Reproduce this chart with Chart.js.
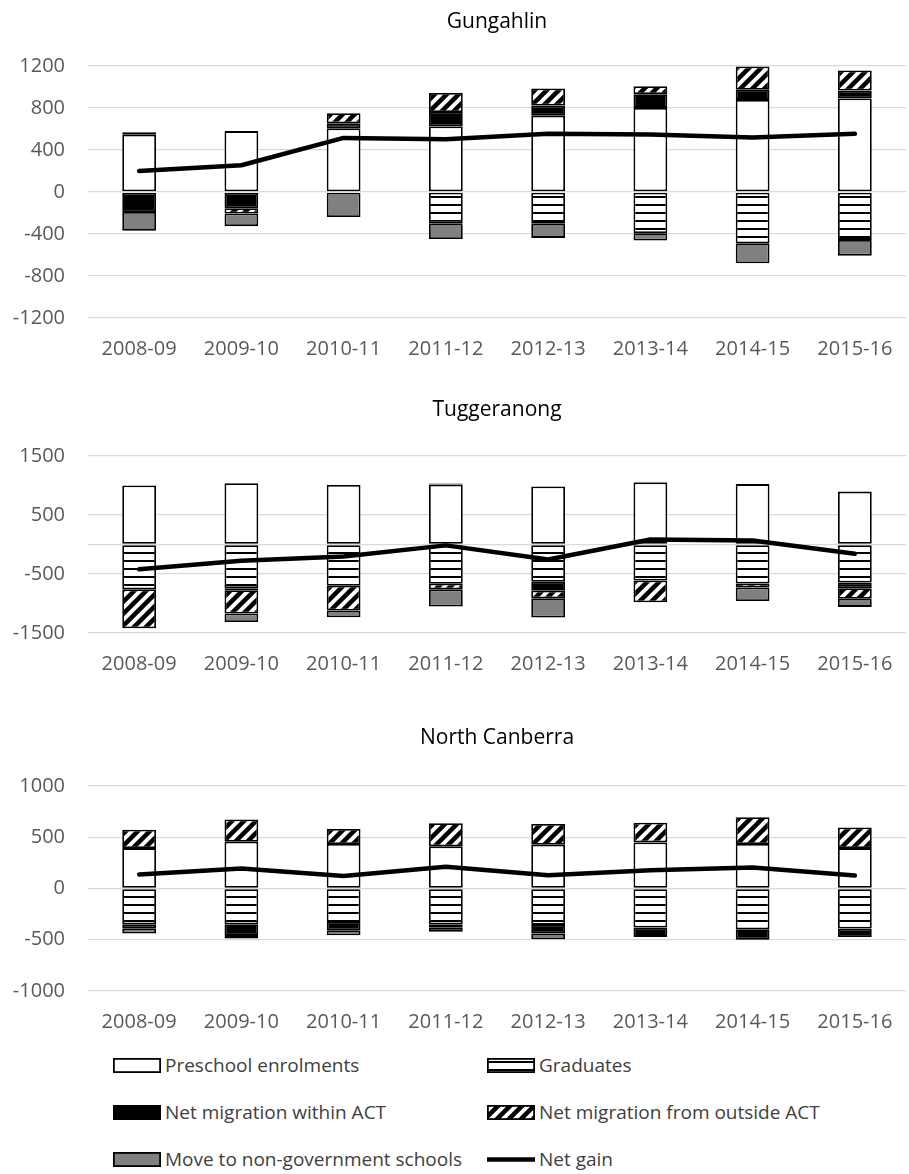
<!DOCTYPE html>
<html>
<head>
<meta charset="utf-8">
<script src="https://cdn.jsdelivr.net/npm/chart.js@4.4.1/dist/chart.umd.min.js"></script>
<style>
  body { margin: 0; background: #fff; width: 909px; height: 1174px; overflow: hidden; position: relative; font-family: "Open Sans", sans-serif; }
  .panel { position: absolute; left: 0; width: 909px; }
  .item { position: absolute; height: 26px; display: flex; align-items: center; font-size: 19px; color: #404040; white-space: nowrap; }
  .item canvas { margin-right: 4px; }
</style>
</head>
<body>
<div class="panel" style="top:1px;height:371px"><canvas id="chartGungahlin"></canvas></div>
<div class="panel" style="top:389px;height:298px"><canvas id="chartTuggeranong"></canvas></div>
<div class="panel" style="top:717px;height:328px"><canvas id="chartNorth"></canvas></div>
<div id="legend"></div>

<script>
// categorias (anos lectivos)
var years = ['2008-09', '2009-10', '2010-11', '2011-12', '2012-13', '2013-14', '2014-15', '2015-16'];
var seriesNames = ['Preschool enrolments', 'Graduates', 'Net migration within ACT', 'Net migration from outside ACT', 'Move to non-government schools', 'Net gain'];

// Gungahlin
var gungPreschool = [545, 580, 606, 625, 727, 801, 877, 890];
var gungGraduates = [0, 0, 0, -297, -303, -392, -488, -456];
var gungWithin    = [-190, -155, 48, 137, 96, 131, 96, 77];
var gungOutside   = [25, -50, 96, 182, 163, 75, 223, 191];
var gungNonGov    = [-180, -120, -239, -150, -134, -70, -191, -150];
var gungNet       = [200, 255, 515, 502, 555, 548, 520, 555];
var gungTicks     = [-1200, -800, -400, 0, 400, 800, 1200];
var gungTickLabels = ['-1200', '-800', '-400', '0', '400', '800', '1200'];

// Tuggeranong
var tuggPreschool = [1000, 1040, 1010, 1015, 983, 1050, 1024, 897];
var tuggGraduates = [-760, -740, -700, -665, -633, -610, -660, -644];
var tuggWithin    = [0, -35, 0, 20, -150, 15, 0, -98];
var tuggOutside   = [-660, -395, -420, -95, -127, -370, -69, -178];
var tuggNonGov    = [0, -145, -115, -290, -328, 0, -230, -138];
var tuggNet       = [-420, -276, -205, -15, -253, 86, 69, -155];
var tuggTicks     = [-1500, -500, 0, 500, 1500];
var tuggTickLabels = ['-1500', '-500', '', '500', '1500'];

// North Canberra
var northPreschool = [394, 456, 434, 411, 427, 450, 434, 394];
var northGraduates = [-349, -349, -326, -349, -355, -381, -398, -391];
var northWithin    = [-39, -104, -82, -33, -85, -91, -98, -82];
var northOutside   = [179, 218, 147, 225, 202, 192, 261, 202];
var northNonGov    = [-52, -36, -49, -39, -55, 0, -6, 0];
var northNet       = [137, 196, 121, 212, 130, 179, 205, 127];
var northTicks     = [-1000, -500, 0, 500, 1000];
var northTickLabels = ['-1000', '-500', '0', '500', '1000'];

Chart.defaults.font.family = '"Open Sans", sans-serif';

function patronRayas() {
    var c = document.createElement('canvas');
    c.width = 12; c.height = 12;
    var g = c.getContext('2d');
    g.fillStyle = '#fff';
    g.fillRect(0, 0, 12, 12);
    g.strokeStyle = '#000';
    g.lineWidth = 4.5;
    g.beginPath();
    [-12, 0, 12].forEach(function(k) {
        g.moveTo(-2, 14 + k);
        g.lineTo(14, -2 + k);
    });
    g.stroke();
    return g.createPattern(c, 'repeat');
}

function patronLineas() {
    var c = document.createElement('canvas');
    c.width = 8; c.height = 8;
    var g = c.getContext('2d');
    g.fillStyle = '#fff';
    g.fillRect(0, 0, 8, 8);
    g.fillStyle = '#000';
    g.fillRect(0, 3, 8, 2);
    return g.createPattern(c, 'repeat');
}

var fills = ['#ffffff', patronLineas(), '#000000', patronRayas(), '#808080'];

function barSet(i, values) {
    return {
        type: 'bar', label: seriesNames[i], data: values,
        backgroundColor: fills[i], borderColor: '#000', borderWidth: 1.8,
        borderSkipped: false, barPercentage: 1, categoryPercentage: 0.33,
        stack: 's', order: 1
    };
}

function crearPanel(id, titulo, series, net, ticks, tickLabels, titleBottom) {
    var datasets = series.map(function(v, i) { return barSet(i, v); });
    datasets.push({
        type: 'line', label: seriesNames[5], data: net,
        borderColor: '#000', borderWidth: 4.5, pointRadius: 0, tension: 0,
        borderCapStyle: 'round', borderJoinStyle: 'round', fill: false,
        stack: 'line', order: 0
    });

    return new Chart(document.getElementById(id), {
        data: { labels: years, datasets: datasets },
        options: {
            responsive: true, maintainAspectRatio: false, animation: false,
            layout: { padding: { left: 0, right: 3, top: 0, bottom: 0 } },
            plugins: {
                legend: { display: false },
                tooltip: { enabled: false },
                title: {
                    display: true, text: titulo, color: '#000', fullSize: false,
                    font: { size: 21, weight: 'normal' },
                    padding: { top: 8, bottom: titleBottom }
                }
            },
            scales: {
                x: {
                    stacked: true,
                    grid: { display: false },
                    border: { display: false },
                    ticks: { color: '#595959', font: { size: 20 }, padding: 11, maxRotation: 0, autoSkip: false }
                },
                y: {
                    stacked: true,
                    min: ticks[0], max: ticks[ticks.length - 1],
                    afterBuildTicks: function(s) { s.ticks = ticks.map(function(v) { return { value: v }; }); },
                    afterFit: function(s) { s.width = 88; },
                    grid: { color: '#d9d9d9', lineWidth: 1.3, drawTicks: false },
                    border: { display: false },
                    ticks: {
                        color: '#595959', font: { size: 20 }, padding: 23,
                        callback: function(v) { var k = ticks.indexOf(v); return k >= 0 ? tickLabels[k] : ''; }
                    }
                }
            }
        }
    });
}

crearPanel('chartGungahlin', 'Gungahlin',
    [gungPreschool, gungGraduates, gungWithin, gungOutside, gungNonGov], gungNet, gungTicks, gungTickLabels, 31.8);
crearPanel('chartTuggeranong', 'Tuggeranong',
    [tuggPreschool, tuggGraduates, tuggWithin, tuggOutside, tuggNonGov], tuggNet, tuggTicks, tuggTickLabels, 33.8);
crearPanel('chartNorth', 'North Canberra',
    [northPreschool, northGraduates, northWithin, northOutside, northNonGov], northNet, northTicks, northTickLabels, 35.8);

// leyenda en dos columnas
var legendPos = [[113, 1052], [487, 1052], [113, 1099], [487, 1099], [113, 1146], [487, 1146]];
var legend = document.getElementById('legend');
seriesNames.forEach(function(name, i) {
    var div = document.createElement('div');
    div.className = 'item';
    div.style.left = legendPos[i][0] + 'px';
    div.style.top = legendPos[i][1] + 'px';
    var sw = document.createElement('canvas');
    sw.width = 48; sw.height = 15;
    var g = sw.getContext('2d');
    if (i < 5) {
        g.fillStyle = fills[i];
        g.fillRect(0, 0, 48, 15);
        g.strokeStyle = '#000';
        g.lineWidth = 1.8;
        g.strokeRect(0.9, 0.9, 46.2, 13.2);
    } else {
        g.strokeStyle = '#000';
        g.lineWidth = 4.5;
        g.beginPath();
        g.moveTo(0, 7.5); g.lineTo(48, 7.5);
        g.stroke();
    }
    div.appendChild(sw);
    div.appendChild(document.createTextNode(name));
    legend.appendChild(div);
});
</script>
</body>
</html>
